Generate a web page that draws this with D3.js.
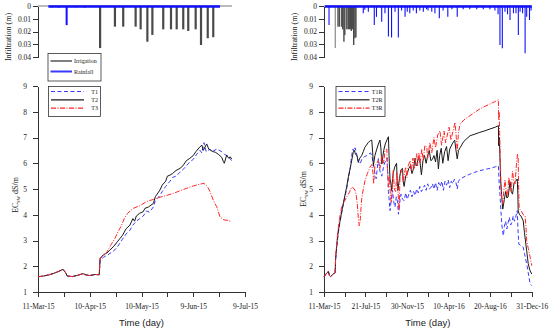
<!DOCTYPE html>
<html>
<head>
<meta charset="utf-8">
<script src="https://cdn.jsdelivr.net/npm/d3@7"></script>
<style>
  body { margin: 0; background: #fff; }
  svg text { font-family: "Liberation Serif", "Times New Roman", serif; fill: #222; }
  .axis path, .axis line { stroke: #333; shape-rendering: crispEdges; }
  .axis text { font-size: 7.5px; fill: #222; }
</style>
</head>
<body>
<div id="chart"></div>
<script>
// ---- data (day = days since 11-Mar-15) ----
var leftTicks  = ["2015-03-11", "2015-04-10", "2015-05-10", "2015-06-09", "2015-07-09"];
var rightTicks = ["2015-03-11", "2015-07-21", "2015-11-30", "2016-04-10", "2016-08-20", "2016-12-31"];
var ecTicks  = [1, 2, 3, 4, 5, 6, 7, 8, 9];
var infTicks = [0, 0.01, 0.02, 0.03, 0.04];

// irrigation pulses [day, depth m]
var irrigation = [[36, 0.033], [44.6, 0.0162], [49.4, 0.0162], [56.6, 0.0162], [59.5, 0.0183],
  [63.4, 0.028], [66.3, 0.0227], [72.6, 0.0183], [77.1, 0.0183], [80.4, 0.0183], [84.2, 0.0183],
  [87.1, 0.0196], [91.4, 0.0183], [94.5, 0.0306], [98.4, 0.0253], [101.6, 0.0245]];

// rainfall [day, depth m]
var rainLeft = [[8, 0.001], [12, 0.0012], [16.6, 0.015], [22, 0.001], [27, 0.0012]];
var rainRight = [[16, 0.0149], [125, 0.0057], [130, 0.003], [141, 0.0045], [160, 0.0149], [167, 0.0085],
  [183.6, 0.0123], [194, 0.0057], [205, 0.024], [215, 0.0248], [226, 0.0045], [236.6, 0.0248],
  [247, 0.0035], [258, 0.0084], [265, 0.0045], [273, 0.0057], [284, 0.0035], [294, 0.0057],
  [305, 0.0035], [316, 0.0045], [326, 0.0025], [331, 0.0035], [343, 0.0045], [353, 0.0057],
  [367, 0.0097], [379, 0.0035], [394, 0.0084], [407, 0.0025], [424, 0.0084], [443, 0.0025],
  [464, 0.0025], [486, 0.0025], [507, 0.0025], [528, 0.0025], [544, 0.0035], [554, 0.0065],
  [560, 0.0306], [567.5, 0.0332], [576, 0.0045], [584, 0.0065], [592, 0.011], [603, 0.0057],
  [611, 0.0057], [618.5, 0.0227], [624, 0.0045], [632, 0.0057], [640, 0.0371], [645, 0.0084],
  [654, 0.011], [659, 0.0035]];

// EC_sw [day, dS/m] — first season
var earlyLeft = [[0, 1.59], [3, 1.62], [6, 1.66], [9, 1.72], [12, 1.8], [14.5, 1.88], [16, 1.75],
  [17, 1.62], [20, 1.6], [23, 1.65], [26, 1.71], [28, 1.66], [30, 1.64], [33, 1.68], [35.5, 1.67]];
var t1 = earlyLeft.concat([[36, 2.24], [38, 2.35], [40, 2.42], [41.7, 2.5], [44, 2.6], [46, 2.75],
  [47.5, 2.9], [49, 3.05], [51, 3.25], [53.3, 3.4], [55, 3.6], [57, 3.75], [59, 3.85], [61, 3.95],
  [63, 4.15], [64.5, 4.1], [66.9, 4.3], [68, 4.55], [70.7, 4.75], [72, 4.9], [74, 5.1], [76.5, 5.3],
  [78, 5.45], [80, 5.5], [82.3, 5.65], [84, 5.75], [86, 5.9], [88, 6.05], [90, 6.15], [92, 6.35],
  [93.9, 6.5], [95, 6.4], [96.2, 6.8], [97.5, 6.45], [99.7, 6.55], [101, 6.45], [103.6, 6.55],
  [105, 6.5], [106.5, 6.45], [108, 6.35], [109.4, 6.3], [111, 6.2], [112.3, 6.1]]);
var t2 = earlyLeft.concat([[36, 2.31], [38, 2.45], [40, 2.52], [41.7, 2.63], [44, 2.78], [46, 2.95],
  [47.5, 3.08], [49, 3.2], [51, 3.45], [53.3, 3.6], [55, 3.85], [56, 3.75], [57, 3.95], [59, 4.06],
  [61, 4.12], [62, 4.25], [64, 4.3], [66.9, 4.44], [68, 4.7], [70.7, 4.96], [72, 5.15], [74, 5.3],
  [75, 5.5], [76.5, 5.54], [78, 5.6], [80, 5.72], [82.3, 5.8], [84, 5.9], [86, 6.1], [88, 6.19],
  [90, 6.3], [91.5, 6.45], [93.9, 6.64], [95, 6.7], [95.8, 6.5], [97.8, 6.75], [99, 6.55],
  [100, 6.5], [101.6, 6.45], [103, 6.42], [104.5, 6.35], [106.5, 6.23], [107.5, 6.06], [108, 6.0],
  [109.4, 6.32], [110.5, 6.2], [111.5, 6.25], [112.3, 6.16]]);
var t3 = earlyLeft.concat([[36, 2.3], [38, 2.4], [40, 2.56], [42, 2.8], [44.6, 3.08], [46.5, 3.35],
  [48.5, 3.6], [50, 3.85], [52, 4.06], [55.3, 4.25], [59, 4.35], [63, 4.51], [67, 4.6], [70.7, 4.68],
  [75, 4.76], [78.4, 4.83], [82, 4.92], [86.2, 5.03], [90, 5.12], [93.9, 5.19], [96.2, 5.22],
  [98, 5.12], [99.7, 4.9], [101.7, 4.55], [103.6, 4.31], [105.5, 3.92], [107.8, 3.8], [110, 3.78],
  [112.3, 3.73]]);

// EC_sw [day, dS/m] — long run
var earlyRight = [[0, 1.59], [4, 1.66], [9, 1.74], [14, 1.8], [17, 1.65], [21, 1.6], [26, 1.66],
  [31, 1.72], [35.5, 1.74]];
var t1r = earlyRight.concat([[37, 2.25], [42, 2.9], [45.6, 3.3], [50, 3.65], [56, 4.05], [64, 4.55],
  [72, 5.0], [78, 5.45], [84, 5.85], [88, 6.3], [92, 6.55], [95, 6.45], [99, 6.6], [105, 6.3],
  [110, 6.05], [115, 5.97], [120, 6.15], [128, 6.25], [136, 6.3], [142, 6.35], [148, 6.4], [152, 6.3],
  [157, 6.0], [162, 5.61], [166, 5.4], [170, 5.85], [173, 6.18], [178, 5.7], [184, 5.5], [190, 5.9],
  [196, 6.1], [200, 6.2], [203, 5.6], [205, 4.9], [208, 4.5], [210, 4.16], [214, 4.6], [218, 4.95],
  [222, 4.5], [226, 4.3], [230, 4.7], [234, 4.5], [237, 4.02], [240, 4.4], [245, 4.8], [250, 4.6],
  [255, 4.55], [260, 4.85], [265, 4.6], [270, 4.8], [275, 4.95], [280, 4.7], [285, 4.9], [290, 4.75],
  [295, 5.0], [300, 4.85], [305, 5.1], [310, 4.9], [315, 5.0], [320, 5.15], [325, 4.95], [330, 5.2],
  [335, 5.0], [340, 5.05], [345, 5.2], [350, 5.0], [355, 5.25], [360, 4.95], [365, 5.25], [370, 5.1],
  [375, 5.3], [380, 4.95], [385, 5.3], [390, 5.15], [395, 5.35], [400, 5.05], [405, 5.3], [410, 5.2],
  [415, 5.38], [420, 5.25], [424, 5.0], [428, 5.3], [433, 5.39], [450, 5.5], [465, 5.58], [480, 5.65],
  [496, 5.71], [512, 5.76], [528, 5.8], [545, 5.86], [555, 5.9], [557, 5.35], [560, 4.8], [563, 4.16],
  [566, 3.6], [569, 3.3], [571, 3.19], [574, 3.55], [578, 3.75], [582, 3.45], [586, 3.7], [590, 3.9],
  [594, 3.6], [598, 3.7], [602, 3.95], [606, 3.75], [610, 3.9], [615, 4.16], [617, 3.5], [620, 2.86],
  [627, 2.8], [634, 2.74], [638, 2.5], [645, 2.09], [650, 1.75], [656, 1.31], [661, 1.25]]);
var t2r = earlyRight.concat([[37, 2.3], [42, 3.0], [45.6, 3.37], [50, 3.7], [56, 4.1], [64, 4.6],
  [72, 5.07], [78, 5.5], [84, 5.84], [88, 6.1], [93, 6.42], [97, 6.5], [100, 6.35], [105, 6.3],
  [109, 6.04], [114, 6.2], [120, 6.3], [125, 6.45], [130, 6.62], [135, 6.7], [141, 6.81], [148, 6.88],
  [152, 6.9], [155, 6.4], [157, 5.9], [162, 6.3], [168, 6.55], [173, 6.75], [178, 6.9], [181, 6.6],
  [184, 5.97], [190, 6.5], [195, 6.75], [200, 6.9], [205, 7.03], [207, 6.3], [210, 5.39], [213, 5.2],
  [215, 4.94], [220, 5.6], [225, 5.85], [231, 6.0], [233, 5.3], [235, 4.94], [240, 5.4], [245, 5.75],
  [250, 5.8], [252, 5.3], [255, 5.1], [260, 5.5], [265, 5.6], [270, 5.8], [275, 5.9], [280, 5.6],
  [285, 5.8], [290, 6.2], [293, 5.9], [296, 5.95], [300, 6.2], [305, 6.1], [310, 5.55], [315, 6.1],
  [320, 6.3], [325, 6.0], [330, 6.3], [335, 6.5], [340, 6.1], [345, 6.15], [350, 6.3], [355, 6.05],
  [360, 6.5], [364, 5.78], [368, 6.3], [373, 6.58], [378, 6.0], [384, 6.45], [390, 6.65], [395, 6.1],
  [400, 6.55], [408, 6.75], [416, 6.9], [420, 6.5], [424, 6.17], [428, 6.5], [433, 6.6], [445, 6.85],
  [465, 7.07], [480, 7.13], [496, 7.2], [512, 7.26], [528, 7.33], [545, 7.4], [555, 7.46], [556, 6.68],
  [558, 7.0], [560, 6.2], [562, 5.39], [565, 4.8], [569, 4.22], [574, 4.6], [578, 4.9], [582, 4.65],
  [586, 4.7], [592, 5.28], [596, 4.9], [600, 4.8], [605, 5.25], [610, 5.3], [615, 5.39], [617, 4.8],
  [618, 4.16], [622, 4.0], [627, 3.95], [634, 3.77], [638, 3.3], [645, 2.6], [650, 2.1], [655, 1.85],
  [661, 1.7]]);
var t3r = earlyRight.concat([[37, 2.4], [42, 3.1], [45.6, 3.51], [50, 3.9], [56, 4.29], [64, 4.5],
  [72, 4.68], [80, 4.85], [88, 5.07], [93, 5.05], [98.7, 4.95], [102, 4.8], [106, 4.42], [109, 3.9],
  [112, 3.57], [115, 3.75], [118, 4.3], [120, 4.61], [125, 5.0], [130.5, 5.32], [138, 5.6], [146, 5.84],
  [152, 5.95], [156, 5.6], [158, 5.2], [162, 5.9], [168, 6.0], [173, 6.1], [178, 5.8], [184, 6.29],
  [190, 6.0], [194, 6.49], [200, 6.55], [202, 5.8], [205, 5.07], [208, 5.5], [212, 4.6], [215, 4.48],
  [218, 5.2], [220, 5.71], [224, 5.0], [228, 4.9], [232, 5.65], [236, 4.8], [239, 4.16], [242, 5.55],
  [248, 5.75], [252, 5.25], [256, 5.6], [260, 5.85], [264, 5.45], [268, 5.9], [274, 6.1], [278, 5.7],
  [283, 6.2], [287, 5.8], [295, 6.37], [298, 5.9], [302, 6.4], [306, 6.0], [311, 6.55], [316, 6.1],
  [321, 6.7], [327, 6.62], [330, 6.2], [337, 6.8], [343, 6.4], [350, 7.0], [355, 6.6], [362, 7.1],
  [369, 7.26], [374, 6.7], [382, 7.25], [387, 6.8], [398, 7.4], [404, 6.9], [417, 7.59], [421, 7.0],
  [424, 6.49], [428, 7.2], [433, 7.52], [445, 7.68], [465, 7.85], [480, 7.98], [496, 8.11], [512, 8.21],
  [528, 8.3], [545, 8.4], [555, 8.47], [556, 7.7], [557.5, 8.0], [559, 7.2], [561, 6.2], [563, 5.2],
  [565, 4.7], [569, 4.42], [572, 4.9], [576, 5.35], [580, 4.9], [584, 4.7], [588, 5.45], [592, 5.2],
  [596, 4.9], [600, 5.7], [604, 5.3], [608, 5.2], [612, 5.9], [616, 6.36], [618, 6.2], [619, 5.3],
  [621, 4.29], [624, 4.2], [628, 4.15], [634, 4.0], [640, 3.96], [643, 3.5], [645, 2.99], [650, 2.7],
  [656, 2.35], [661, 2.02]]);

// ---- drawing ----
var width = 550, height = 330;
var parseDay = d3.timeParse("%Y-%m-%d");
var startDate = parseDay("2015-03-11");
var fmt = d3.timeFormat("%-d-%b-%y");
function dayToDate(d) { return new Date(startDate.getTime() + d * 86400000); }

var svg = d3.select("#chart").append("svg")
  .attr("width", width)
  .attr("height", height);

var yInf = d3.scaleLinear().domain([0, 0.04]).range([6, 57]);
var yEC = d3.scaleLinear().domain([1, 9]).range([292, 86]);

function drawPanel(p) {
  var ticks = p.ticks.map(parseDay);
  var minor = [];
  for (var i = 0; i < ticks.length - 1; i++) {
    minor.push(new Date((ticks[i].getTime() + ticks[i + 1].getTime()) / 2));
  }
  var x = d3.scaleTime().domain([ticks[0], ticks[ticks.length - 1]]).range([p.left, p.right]);
  var xd = function(d) { return x(dayToDate(d)); };

  // infiltration inset
  svg.append("g").attr("class", "axis")
    .attr("transform", "translate(" + p.left + ",0)")
    .call(d3.axisLeft(yInf).tickValues(infTicks)
      .tickFormat(function(d) { return d === 0 ? "0" : d3.format(".2f")(d); })
      .tickSize(5).tickSizeOuter(0).tickPadding(2));

  // irrigation baseline + pulses
  svg.append("line")
    .attr("x1", xd(0)).attr("x2", xd(p.irrEnd))
    .attr("y1", yInf(0)).attr("y2", yInf(0))
    .attr("stroke", "#777").attr("stroke-width", 1);
  svg.selectAll(null).data(irrigation).enter().append("line")
    .attr("x1", function(d) { return xd(d[0]); })
    .attr("x2", function(d) { return xd(d[0]); })
    .attr("y1", yInf(0))
    .attr("y2", function(d) { return yInf(d[1]); })
    .attr("stroke", function(d, i) { return (p.lightFirst && i === 0) ? "#999" : "#4a4a4a"; })
    .attr("stroke-width", p.irrWidth);

  // rainfall baseline + spikes
  svg.append("line")
    .attr("x1", xd(p.rainStart)).attr("x2", xd(p.rainEnd))
    .attr("y1", yInf(0) + 0.5).attr("y2", yInf(0) + 0.5)
    .attr("stroke", "#1010ff").attr("stroke-width", 2.5);
  svg.selectAll(null).data(p.rain).enter().append("line")
    .attr("x1", function(d) { return xd(d[0]); })
    .attr("x2", function(d) { return xd(d[0]); })
    .attr("y1", yInf(0))
    .attr("y2", function(d) { return yInf(d[1]); })
    .attr("stroke", "#1010ff")
    .attr("stroke-width", p.rainWidth);

  svg.append("text")
    .attr("transform", "translate(" + (p.left - 27.5) + ",37) rotate(-90)")
    .attr("text-anchor", "middle")
    .style("font-size", "8px")
    .text("Infiltration (m)");

  // EC plot axes
  svg.append("g").attr("class", "axis")
    .attr("transform", "translate(" + p.left + ",0)")
    .call(d3.axisLeft(yEC).tickValues(ecTicks).tickSize(5).tickSizeOuter(0).tickPadding(6));

  svg.append("g").attr("class", "axis")
    .attr("transform", "translate(0,292)")
    .call(d3.axisBottom(x).tickValues(ticks).tickFormat(fmt).tickSize(5).tickSizeOuter(0).tickPadding(7));
  svg.append("g").attr("class", "axis")
    .attr("transform", "translate(0,292)")
    .call(d3.axisBottom(x).tickValues(minor).tickFormat("").tickSize(5).tickSizeOuter(0))
    .select(".domain").remove();

  svg.append("text")
    .attr("x", (p.left + p.right) / 2)
    .attr("y", 326)
    .attr("text-anchor", "middle")
    .style("font-family", "'Liberation Sans', Arial, sans-serif")
    .style("font-size", "9.5px")
    .text("Time (day)");

  var ecLabel = svg.append("text")
    .attr("transform", "translate(" + (p.left - p.ecOff) + "," + p.ecMid + ") rotate(-90)")
    .attr("text-anchor", "middle")
    .style("font-size", "8px");
  ecLabel.append("tspan").text("EC");
  ecLabel.append("tspan").attr("dy", 2).style("font-size", "6px").text("sw");
  ecLabel.append("tspan").attr("dy", -2).text(" dS/m");

  // series
  var line = d3.line()
    .x(function(d) { return xd(d[0]); })
    .y(function(d) { return yEC(d[1]); });

  p.series.forEach(function(s) {
    svg.append("path")
      .datum(s.data)
      .attr("fill", "none")
      .attr("stroke", s.color)
      .attr("stroke-width", 1)
      .attr("stroke-dasharray", s.dash)
      .attr("d", line);
  });

  // legend
  var lg = p.legend;
  svg.append("rect")
    .attr("x", lg.x).attr("y", 86.5).attr("width", lg.w).attr("height", 30)
    .attr("fill", "#fff").attr("stroke", "#333").attr("stroke-width", 0.8);
  p.series.forEach(function(s, i) {
    var ly = 91.5 + i * 8.3;
    svg.append("line")
      .attr("x1", lg.x + 2.5).attr("x2", lg.x + 2.5 + lg.len)
      .attr("y1", ly).attr("y2", ly)
      .attr("stroke", s.color).attr("stroke-width", 1.2)
      .attr("stroke-dasharray", s.dash);
    svg.append("text")
      .attr("x", lg.x + lg.w - 2.5).attr("y", ly + 2)
      .attr("text-anchor", "end")
      .style("font-size", "6px")
      .text(s.name);
  });
}

var blue = "#3a3aff", black = "#1a1a1a", red = "#ff2626";
var dashT1 = "4,2.5", dashT3 = "5,1.5,1,1.5";

drawPanel({
  left: 38, right: 245, ticks: leftTicks,
  irrEnd: 112.5, irrWidth: 2.2, lightFirst: false,
  rain: rainLeft, rainStart: 6, rainEnd: 105.5, rainWidth: 2,
  ecOff: 20, ecMid: 195,
  legend: { x: 48.5, w: 52, len: 33 },
  series: [
    { name: "T1", data: t1, color: blue, dash: dashT1 },
    { name: "T2", data: t2, color: black, dash: null },
    { name: "T3", data: t3, color: red, dash: dashT3 }
  ]
});

drawPanel({
  left: 324, right: 531.7, ticks: rightTicks,
  irrEnd: 661, irrWidth: 1.4, lightFirst: true,
  rain: rainRight, rainStart: 3, rainEnd: 661, rainWidth: 1.1,
  ecOff: 18, ecMid: 189,
  legend: { x: 336, w: 49, len: 31 },
  series: [
    { name: "T1R", data: t1r, color: blue, dash: dashT1 },
    { name: "T2R", data: t2r, color: black, dash: null },
    { name: "T3R", data: t3r, color: red, dash: dashT3 }
  ]
});

// inset legend (left panel only)
var inLeg = [{ name: "Irrigation", color: "#555", w: 1.5 }, { name: "Rainfall", color: "#3a3aff", w: 2 }];
svg.append("rect")
  .attr("x", 48).attr("y", 53.5).attr("width", 53).attr("height", 27.5)
  .attr("fill", "#fff").attr("stroke", "#333").attr("stroke-width", 0.8);
inLeg.forEach(function(s, i) {
  var ly = 61 + i * 10.5;
  svg.append("line")
    .attr("x1", 50.5).attr("x2", 72).attr("y1", ly).attr("y2", ly)
    .attr("stroke", s.color).attr("stroke-width", s.w);
  svg.append("text")
    .attr("x", 74).attr("y", ly + 2)
    .style("font-size", "6px")
    .text(s.name);
});
</script>
</body>
</html>
